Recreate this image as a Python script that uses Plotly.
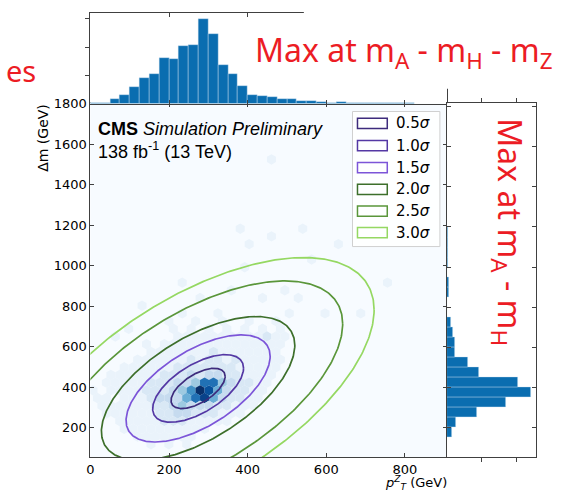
import numpy as np
import plotly.graph_objects as go

W, H = 566, 493

# ---------------- data ----------------
# top marginal histogram: pT^Z, 25 GeV bins starting at 0
top_bin_width = 25.0
top_counts = [3, 2, 15, 27, 50, 77, 90, 138, 137, 175, 179, 257, 211, 118, 91, 54,
              27, 24, 20, 15, 13, 7, 7, 5, 2, 5, 2, 3, 2, 1, 3, 3, 1]

# right marginal histogram: Δm, 50 GeV bins starting at 150
right_bin_start = 150.0
right_bin_width = 50.0
right_counts = [5, 9.3, 30, 59, 85, 71, 32.7, 20.7, 8.5, 7.7, 5.7, 3.7, 0, 0,
                1.7, 1.7, 0, 1, 1, 1, 1]

# hexbin (pT^Z vs Δm): lattice of hexagons, column index h in half steps
hex_x0, hex_y0 = 279.0, 385.0      # centre of the densest bin
hex_dx, hex_dy = 22.7, 38.0        # column spacing, row spacing (GeV)
hex_rows = [10, 9, 8, 7, 6, 5, 4, 3, 2, 1, 0, -1, -2, -3, -4, -5, -6, -7]
hex_row_start = [-4, -7, -6, -5, -8, -11, -14, -17, -20, -21, -24, -23, -22, -21, -18, -17, -14, -11]
hex_row_counts = [
    [1, 0, 0, 0, 1, 0, 0, 0, 0, 0, 0, 0, 1, 0, 0, 0, 1, 0, 0, 0, 1],
    [1, 0, 0, 1, 0, 0, 1, 0, 0, 1, 0, 0, 1],
    [1, 0, 1, 0, 1, 0, 1, 0, 1, 0, 1, 0, 1],
    [1, 1, 1, 1, 1, 1, 1, 1, 1, 1, 2, 1, 1],
    [1, 1, 1, 1, 1, 1, 1, 1, 1, 1, 1, 1, 1, 1],
    [1, 1, 1, 1, 1, 1, 1, 2, 1, 1, 1, 1, 1, 1, 1],
    [1, 1, 1, 1, 1, 1, 2, 1, 2, 2, 1, 2, 1, 1, 1, 1, 1],
    [1, 1, 1, 1, 1, 1, 2, 2, 2, 2, 2, 2, 2, 1, 1, 1, 1, 1],
    [1, 1, 1, 1, 1, 1, 2, 2, 2, 3, 2, 3, 3, 2, 2, 1, 1, 1, 1],
    [1, 1, 1, 1, 1, 2, 2, 2, 3, 3, 4, 7, 7, 4, 3, 2, 2, 1, 1],
    [1, 0, 1, 1, 1, 1, 2, 2, 2, 3, 4, 6, 10, 8, 5, 3, 2, 2, 1, 1],
    [1, 1, 0, 1, 1, 1, 2, 3, 3, 3, 5, 7, 9, 5, 3, 2, 2, 1, 1],
    [1, 1, 1, 1, 1, 1, 2, 2, 3, 4, 3, 3, 3, 2, 2, 1, 1, 1],
    [1, 1, 1, 1, 1, 1, 2, 2, 3, 3, 2, 2, 2, 1, 1, 1],
    [1, 1, 1, 1, 1, 2, 2, 2, 1, 1, 1, 1, 1],
    [1, 1, 1, 1, 1, 1, 1, 1, 1, 1],
    [1, 1, 1, 1, 1, 1, 1],
    [1, 0, 1, 0, 1],
]
# isolated sparse bins
sparse_row = [12, 12, 12, 14, 14, 21, 20, 21, 19, 19, 16, 13, 13, 11, 17, 30, 7, 8, 6]
sparse_h = [0, 14, 22, -4, 42, 9, 16, 23, 11, 31, 10, 7, 19, -13, 25, 16, -19, -16, -12]
sparse_count = [1] * len(sparse_row)

# fitted 2D shape and the sigma contours
fit_mu_x, fit_mu_y = 274.0, 394.5
fit_sig_x, fit_sig_y, fit_rho = 123.0, 177.5, 0.6
sigma_labels = [0.5, 1.0, 1.5, 2.0, 2.5, 3.0]
contour_radius = [0.56, 0.94, 1.49, 2.0, 2.99, 3.64]
sigma_colors = ['#3d2b7c', '#5438a4', '#7c55d8', '#3d6f2b', '#5a963a', '#95d862']

x_ticks = [0, 200, 400, 600, 800]
y_ticks = [200, 400, 600, 800, 1000, 1200, 1400, 1600, 1800]

# ---------------- helpers ----------------
def PX(x):
    return x / W

def PY(y):
    return 1 - y / H

blues = [[0.0, '#f7fbff'], [0.1, '#eaf3fb'], [0.2, '#d9e8f5'], [0.3, '#c6dbef'],
         [0.4, '#9ecae1'], [0.5, '#6baed6'], [0.6, '#4292c6'], [0.7, '#2171b5'],
         [0.8, '#08519c'], [0.9, '#08428a'], [1.0, '#08306b']]

fig = go.Figure()

# hexbin cells
hx, hy, hc = [], [], []
for j, h0, counts in zip(hex_rows, hex_row_start, hex_row_counts):
    for k, c in enumerate(counts):
        if c > 0:
            h = h0 + 2 * k
            hx.append(hex_x0 + h * hex_dx / 2)
            hy.append(hex_y0 + j * hex_dy)
            hc.append(c)
for j, h, c in zip(sparse_row, sparse_h, sparse_count):
    hx.append(hex_x0 + h * hex_dx / 2)
    hy.append(hex_y0 + j * hex_dy)
    hc.append(c)

fig.add_trace(go.Scatter(
    x=hx, y=hy, mode='markers', xaxis='x', yaxis='y', hoverinfo='skip',
    marker=dict(symbol='hexagon', size=10.4, color=hc, colorscale=blues,
                cmin=0, cmax=10, line=dict(width=0), showscale=False)))

# sigma contours of the fitted 2D gaussian shape
t = np.linspace(0, 2 * np.pi, 400)
for lab, r, col in zip(sigma_labels, contour_radius, sigma_colors):
    ex = fit_mu_x + r * fit_sig_x * np.cos(t)
    ey = fit_mu_y + r * fit_sig_y * (fit_rho * np.cos(t) + np.sqrt(1 - fit_rho ** 2) * np.sin(t))
    fig.add_trace(go.Scatter(x=ex, y=ey, mode='lines', line=dict(color=col, width=1.7),
                             hoverinfo='skip', xaxis='x', yaxis='y'))

# top histogram
top_centers = [top_bin_width * (i + 0.5) for i in range(len(top_counts))]
fig.add_trace(go.Bar(
    x=top_centers, y=top_counts, width=top_bin_width, xaxis='x2', yaxis='y2',
    marker=dict(color='#0a6db0', line=dict(color='#cfe2f3', width=0.4)), hoverinfo='skip'))

# right histogram
right_centers = [right_bin_start + right_bin_width * (i + 0.5) for i in range(len(right_counts))]
fig.add_trace(go.Bar(
    y=right_centers, x=right_counts, width=right_bin_width, orientation='h',
    xaxis='x3', yaxis='y3',
    marker=dict(color='#0a6db0', line=dict(color='#cfe2f3', width=0.4)), hoverinfo='skip'))

# ---------------- axes ----------------
spine = dict(showline=True, linecolor='#404040', linewidth=1, showgrid=False,
             zeroline=False, tickcolor='#404040', ticklen=4, tickwidth=1)
tickfont = dict(family='DejaVu Sans', size=13, color='black')
main_xdom = [PX(87), PX(446.5)]
main_ydom = [PY(456.7), PY(97.5)]

fig.update_layout(
    width=W, height=H, margin=dict(l=0, r=0, t=0, b=0),
    paper_bgcolor='white', plot_bgcolor='white', showlegend=False, bargap=0,
    xaxis=dict(domain=main_xdom, range=[0, 908], anchor='y',
               tickvals=x_ticks, ticks='inside', mirror='ticks', tickfont=tickfont, **spine),
    yaxis=dict(domain=main_ydom, range=[55, 1803], anchor='x',
               tickvals=y_ticks, ticks='inside', mirror='ticks', tickfont=tickfont, **spine),
    xaxis2=dict(domain=main_xdom, range=[0, 908], anchor='y2',
                tickvals=x_ticks, ticks='inside', mirror='ticks', showticklabels=False, **spine),
    yaxis2=dict(domain=[PY(98), PY(6)], range=[0, 276], anchor='x2',
                tickvals=[86, 172, 258], ticks='outside', mirror='ticks', showticklabels=False, **spine),
    xaxis3=dict(domain=[PX(446), PX(536)], range=[0, 90], anchor='y3',
                tickvals=[35, 70], ticks='outside', mirror='ticks', showticklabels=False, **spine),
    yaxis3=dict(domain=main_ydom, range=[52, 1817], anchor='x3',
                tickvals=y_ticks, ticks='inside', mirror='ticks', showticklabels=False, **spine),
)

shapes = []
# main panel background (hexbin empty colour)
shapes.append(dict(type='rect', xref='x domain', yref='y domain', x0=0, x1=1, y0=0, y1=1,
                   fillcolor='#f7fbff', line=dict(width=0), layer='below'))
# legend frame
shapes.append(dict(type='rect', xref='paper', yref='paper', x0=PX(351), x1=PX(439),
                   y0=PY(243), y1=PY(106), fillcolor='rgba(255,255,255,0.85)',
                   line=dict(color='#d0d0d0', width=1), layer='above'))
annotations = []
row_y = [118, 140.5, 163, 185, 207, 229]
for lab, col, yy in zip(sigma_labels, sigma_colors, row_y):
    shapes.append(dict(type='rect', xref='paper', yref='paper', x0=PX(356), x1=PX(386),
                       y0=PY(yy + 5.2), y1=PY(yy - 5.2), fillcolor='rgba(255,255,255,0)',
                       line=dict(color=col, width=1.5), layer='above'))
    annotations.append(dict(text=f'{lab:.1f}<i>σ</i>', x=PX(393), y=PY(yy), xref='paper', yref='paper',
                            xanchor='left', yanchor='middle', showarrow=False,
                            font=dict(family='DejaVu Sans', size=15, color='black')))
# white box behind the red annotation at the top
shapes.append(dict(type='rect', xref='paper', yref='paper', x0=PX(302), x1=1.0,
                   y0=PY(83), y1=PY(3), fillcolor='white', line=dict(width=0), layer='above'))

# CMS label
annotations.append(dict(text='<b>CMS</b> <i>Simulation Preliminary</i>', x=PX(93), y=PY(124),
                        xref='paper', yref='paper', xanchor='left', yanchor='middle', showarrow=False,
                        font=dict(family='Liberation Sans', size=18, color='black')))
annotations.append(dict(text='138 fb<sup>-1</sup> (13 TeV)', x=PX(93), y=PY(146),
                        xref='paper', yref='paper', xanchor='left', yanchor='middle', showarrow=False,
                        font=dict(family='Liberation Sans', size=18, color='black')))
# axis titles
annotations.append(dict(text='Δm (GeV)', x=PX(39), y=PY(133), xref='paper', yref='paper',
                        textangle=-90, xanchor='center', yanchor='middle', showarrow=False,
                        font=dict(family='DejaVu Sans', size=14, color='black')))
annotations.append(dict(text='<i>p</i><sup><i>Z</i></sup><sub><i>T</i></sub> (GeV)',
                        x=PX(447), y=0.0, xref='paper', yref='paper',
                        xanchor='right', yanchor='bottom', showarrow=False, borderpad=0,
                        font=dict(family='DejaVu Sans', size=13, color='black')))
# red overlay texts
red = '#ec1c24'
annotations.append(dict(text='Max at m<sub>A</sub> - m<sub>H</sub> - m<sub>Z</sub>', x=PX(251), y=PY(46),
                        xref='paper', yref='paper', xanchor='left', yanchor='middle', showarrow=False,
                        font=dict(family='Noto Sans', size=32, color=red)))
annotations.append(dict(text='es', x=PX(0), y=PY(64), xref='paper', yref='paper',
                        xanchor='left', yanchor='middle', showarrow=False,
                        font=dict(family='Noto Sans', size=29, color=red)))
annotations.append(dict(text='Max at m<sub>A</sub> - m<sub>H</sub>', x=PX(508), y=PY(229),
                        xref='paper', yref='paper', textangle=90, xanchor='center', yanchor='middle',
                        showarrow=False, font=dict(family='Noto Sans', size=32, color=red)))

fig.update_layout(shapes=shapes, annotations=annotations)
fig.write_html('out.html')
